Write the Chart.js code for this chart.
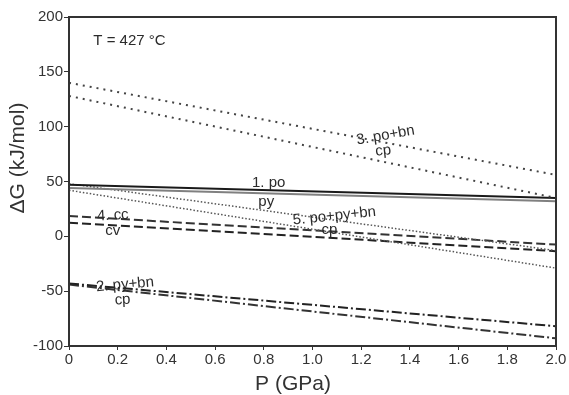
<!DOCTYPE html>
<html>
<head>
<meta charset="utf-8">
<script src="https://cdn.jsdelivr.net/npm/chart.js@4.4.1/dist/chart.umd.min.js"></script>
<style>
  html, body { margin: 0; padding: 0; background: #fff; }
  #wrap { width: 569px; height: 395px; }
</style>
</head>
<body>
<div id="wrap"><canvas id="gChart" width="569" height="395"></canvas></div>
<script>
// Delta G vs pressure at T = 427 °C, five reactions (two curves each)

const pressure = [0, 2.0];

const r1Upper = [47, 35];
const r1Lower = [44, 32];
const r2Upper = [-43, -82];
const r2Lower = [-44, -93];
const r3Upper = [140, 56];
const r3Lower = [128, 35];
const r4Upper = [18.5, -7.5];
const r4Lower = [12.5, -13.5];
const r5Upper = [48, -13];
const r5Lower = [42, -29];

const yTicks = [-100, -50, 0, 50, 100, 150, 200];

// reaction labels: text, P, dG, tilt (deg)
const noteText = ['T = 427 °C', '1. po', 'py', '2. py+bn', 'cp', '3. po+bn', 'cp',
                  '4. cc', 'cv', '5. po+py+bn', 'cp'];
const noteP    = [0.10, 0.82, 0.81, 0.23, 0.22, 1.30, 1.29, 0.18, 0.18, 1.09, 1.07];
const noteG    = [178, 48.5, 31, -44, -58, 92, 78, 19, 4.7, 18.5, 6];
const noteTilt = [0, 0, 0, -5, -3, -10, -6, -3, 0, -6, 0];

Chart.defaults.font.family = "'Liberation Sans', Arial, sans-serif";
Chart.defaults.color = '#333';

function series(vals) {
    return pressure.map((p, i) => ({ x: p, y: vals[i] }));
}

function line(vals, color, width, dash) {
    return {
        data: series(vals),
        showLine: true,
        borderColor: color,
        borderWidth: width,
        borderDash: dash,
        pointRadius: 0,
        fill: false,
    };
}

const annotate = {
    id: 'annotate',
    afterDraw(chart) {
        const { ctx, chartArea: a, scales: { x, y } } = chart;
        ctx.save();
        // frame
        ctx.strokeStyle = '#333';
        ctx.lineWidth = 2;
        ctx.strokeRect(a.left, a.top, a.right - a.left, a.bottom - a.top);

        // reaction labels
        ctx.fillStyle = '#2b2b2b';
        ctx.font = "15px 'Liberation Sans', Arial, sans-serif";
        ctx.textBaseline = 'middle';
        noteText.forEach((t, i) => {
            const px = x.getPixelForValue(noteP[i]);
            const py = y.getPixelForValue(noteG[i]);
            ctx.save();
            ctx.translate(px, py);
            ctx.rotate(noteTilt[i] * Math.PI / 180);
            ctx.textAlign = i === 0 ? 'left' : 'center';
            ctx.fillText(t, 0, 0);
            ctx.restore();
        });

        // axis titles
        ctx.font = "21px 'Liberation Sans', Arial, sans-serif";
        ctx.fillStyle = '#333';
        ctx.textAlign = 'center';
        ctx.fillText('P (GPa)', 293, 384);
        ctx.translate(18, 158);
        ctx.rotate(-Math.PI / 2);
        ctx.fillText('ΔG (kJ/mol)', 0, 0);
        ctx.restore();
    }
};

new Chart(document.getElementById('gChart'), {
    type: 'scatter',
    data: {
        datasets: [
            line(r3Upper, '#444', 2, [2, 5]),
            line(r3Lower, '#444', 2, [2, 5]),
            line(r1Upper, '#1a1a1a', 2, []),
            line(r1Lower, '#808080', 2, []),
            line(r5Upper, '#555', 1.5, [1.5, 2]),
            line(r5Lower, '#555', 1.5, [1.5, 2]),
            line(r4Upper, '#333', 2, [9, 4]),
            line(r4Lower, '#222', 2, [9, 4]),
            line(r2Upper, '#222', 2, [10, 3, 2, 3]),
            line(r2Lower, '#333', 2, [10, 3, 2, 3]),
        ]
    },
    options: {
        responsive: false,
        animation: false,
        events: [],
        layout: { padding: { top: 17, right: 13, left: 0, bottom: 0 } },
        plugins: { legend: { display: false }, tooltip: { enabled: false } },
        scales: {
            x: {
                type: 'linear',
                min: 0,
                max: 2.0,
                ticks: {
                    stepSize: 0.2,
                    padding: 1,
                    font: { size: 15 },
                    color: '#333',
                    callback: v => (Math.abs(v) < 1e-9 ? '0' : v.toFixed(1))
                },
                grid: { drawOnChartArea: false, drawTicks: true, tickLength: 4, color: '#333' },
                border: { display: true, color: '#333', width: 2 },
                afterFit: s => { s.height = 49; }
            },
            y: {
                min: -100,
                max: 200,
                afterBuildTicks: s => { s.ticks = yTicks.map(v => ({ value: v })); },
                ticks: {
                    padding: 1,
                    font: { size: 15 },
                    color: '#333'
                },
                grid: { drawOnChartArea: false, drawTicks: true, tickLength: 5, color: '#333' },
                border: { display: true, color: '#333', width: 2 },
                afterFit: s => { s.width = 69; }
            }
        }
    },
    plugins: [annotate]
});
</script>
</body>
</html>
